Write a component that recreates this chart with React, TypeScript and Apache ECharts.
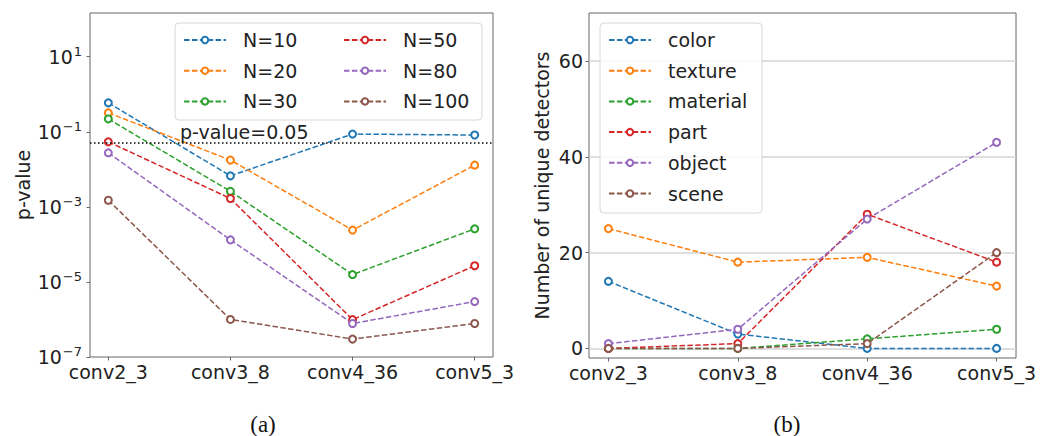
import React, { useEffect, useRef } from "react";
import * as echarts from "echarts";

// Layers probed along the network
const layers = ["conv2_3", "conv3_8", "conv4_36", "conv5_3"];

// (a) p-values per sample size
const sampleSizes = ["N=10", "N=20", "N=30", "N=50", "N=80", "N=100"];
const pN10 = [0.59, 0.0067, 0.087, 0.082];
const pN20 = [0.32, 0.0176, 2.4e-4, 0.0129];
const pN30 = [0.22, 2.6e-3, 1.57e-5, 2.6e-4];
const pN50 = [0.054, 1.67e-3, 9.9e-7, 2.7e-5];
const pN80 = [0.0275, 1.32e-4, 7.8e-7, 3.0e-6];
const pN100 = [1.5e-3, 1.0e-6, 3.0e-7, 7.8e-7];
const pThreshold = 0.05;
const pTicks = [1e-7, 1e-5, 1e-3, 1e-1, 1e1];

// (b) number of unique detectors per concept category
const concepts = ["color", "texture", "material", "part", "object", "scene"];
const colorCount = [14, 3, 0, 0];
const textureCount = [25, 18, 19, 13];
const materialCount = [0, 0, 2, 4];
const partCount = [0, 1, 28, 18];
const objectCount = [1, 4, 27, 43];
const sceneCount = [0, 0, 1, 20];
const countTicks = [0, 20, 40, 60];

const layerTicks = [0, 1, 2, 3];

const palette = ["#1f77b4", "#ff7f0e", "#2ca02c", "#d62728", "#9467bd", "#8c564b"];
const FONT = "DejaVu Sans";
const SPINE = "#666666";
const TEXT = "#222222";

const supDigits = (n: number) => (n < 0 ? "\u2212" + -n : String(n));

function lineSeries(name: string, values: number[], idx: number, axis: number) {
  return {
    type: "line",
    name,
    xAxisIndex: axis,
    yAxisIndex: axis,
    data: values.map((v, i) => [i, v]),
    symbol: "emptyCircle",
    symbolSize: 7,
    color: palette[idx],
    itemStyle: { color: palette[idx], borderWidth: 1.5 },
    lineStyle: { width: 1.5, type: [5.5, 2.4], color: palette[idx] },
    emphasis: { disabled: true },
  };
}

function legendBlock(names: string[], left: number, top: number) {
  return {
    data: names,
    left,
    top,
    orient: "vertical",
    padding: 0,
    itemWidth: 42,
    itemHeight: 8,
    itemGap: 10.7,
    selectedMode: false,
    textStyle: {
      fontFamily: FONT,
      fontSize: 19,
      lineHeight: 20,
      color: TEXT,
      padding: [0, 0, 0, 12],
    },
  };
}

function caption(text: string, x: number) {
  return {
    type: "text",
    x,
    y: 424,
    style: {
      text,
      font: '23px "Liberation Serif"',
      fill: "#111",
      textAlign: "center",
      textVerticalAlign: "middle",
    },
  };
}

export default function App() {
  const ref = useRef<HTMLDivElement>(null);

  useEffect(() => {
    if (!ref.current) return;
    const chart = echarts.init(ref.current, null, { renderer: "svg" });

    const tickStyle = { length: 3.5, lineStyle: { color: SPINE, width: 1 } };

    const xAxisBase = {
      type: "value",
      min: -0.15,
      max: 3.15,
      axisLine: { show: false, onZero: false },
      splitLine: { show: false },
      axisTick: { customValues: layerTicks, ...tickStyle },
      axisLabel: {
        customValues: layerTicks,
        formatter: (v: number) => layers[Math.round(v)],
        fontFamily: FONT,
        fontSize: 19,
        color: TEXT,
        margin: 5,
      },
    };

    const pSeries = [pN10, pN20, pN30, pN50, pN80, pN100].map((vals, i) =>
      lineSeries(sampleSizes[i], vals, i, 0)
    );
    (pSeries[0] as any).markLine = {
      silent: true,
      symbol: "none",
      animation: false,
      data: [{ yAxis: pThreshold }],
      lineStyle: { color: "#000", width: 1.5, type: [1.5, 2.5] },
      label: {
        position: "insideStartTop",
        formatter: "p-value=0.05",
        fontFamily: FONT,
        fontSize: 19,
        color: TEXT,
        distance: 2,
        padding: [0, 0, 0, 88],
      },
    };

    const countSeries = [
      colorCount,
      textureCount,
      materialCount,
      partCount,
      objectCount,
      sceneCount,
    ].map((vals, i) => lineSeries(concepts[i], vals, i, 1));

    const option = {
      animation: false,
      backgroundColor: "#ffffff",
      grid: [
        {
          left: 90,
          top: 13,
          width: 403,
          height: 344,
          show: true,
          borderColor: SPINE,
          borderWidth: 1,
        },
        {
          left: 589,
          top: 13,
          width: 427,
          height: 345,
          show: true,
          borderColor: SPINE,
          borderWidth: 1,
        },
      ],
      xAxis: [
        { ...xAxisBase, gridIndex: 0 },
        { ...xAxisBase, gridIndex: 1 },
      ],
      yAxis: [
        {
          gridIndex: 0,
          type: "log",
          logBase: 10,
          min: 0.99999e-7,
          max: 146,
          name: "p-value",
          nameLocation: "middle",
          nameGap: 58,
          nameTextStyle: { fontFamily: FONT, fontSize: 19, color: TEXT },
          axisLine: { show: false, onZero: false },
          splitLine: { show: false },
          minorTick: { show: false },
          axisTick: { customValues: pTicks, ...tickStyle },
          axisLabel: {
            customValues: pTicks,
            margin: 8,
            formatter: (v: number) =>
              `{b|10}{e|${supDigits(Math.round(Math.log10(v)))}}`,
            rich: {
              b: {
                fontFamily: FONT,
                fontSize: 19,
                lineHeight: 19,
                color: TEXT,
                verticalAlign: "bottom",
              },
              e: {
                fontFamily: FONT,
                fontSize: 13,
                lineHeight: 13,
                color: TEXT,
                padding: [0, 0, 8, 1],
                verticalAlign: "bottom",
              },
            },
          },
        },
        {
          gridIndex: 1,
          type: "value",
          min: -2,
          max: 70,
          name: "Number of unique detectors",
          nameLocation: "middle",
          nameGap: 38,
          nameTextStyle: { fontFamily: FONT, fontSize: 19, color: TEXT },
          axisLine: { show: false, onZero: false },
          splitLine: {
            show: true,
            lineStyle: { color: "#d4d4d4", width: 1.5 },
          },
          axisTick: { customValues: countTicks, ...tickStyle },
          axisLabel: {
            customValues: countTicks,
            fontFamily: FONT,
            fontSize: 19,
            color: TEXT,
            margin: 6,
          },
        },
      ],
      legend: [
        legendBlock(sampleSizes.slice(0, 3), 183, 30),
        legendBlock(sampleSizes.slice(3), 343, 30),
        legendBlock(concepts, 608, 30),
      ],
      graphic: [
        {
          type: "rect",
          z: 3,
          shape: { x: 175, y: 23, width: 307, height: 97, r: 4 },
          style: { fill: "rgba(255,255,255,0.8)", stroke: "#d8d8d8", lineWidth: 1 },
        },
        {
          type: "rect",
          z: 3,
          shape: { x: 600, y: 23, width: 162, height: 190, r: 4 },
          style: { fill: "rgba(255,255,255,0.8)", stroke: "#d8d8d8", lineWidth: 1 },
        },
        caption("(a)", 263),
        caption("(b)", 787),
      ],
      series: [...pSeries, ...countSeries],
    };

    chart.setOption(option as any);
    return () => chart.dispose();
  }, []);

  return (
    <div
      ref={ref}
      style={{ position: "fixed", left: 0, top: 0, width: 1042, height: 436 }}
    />
  );
}
